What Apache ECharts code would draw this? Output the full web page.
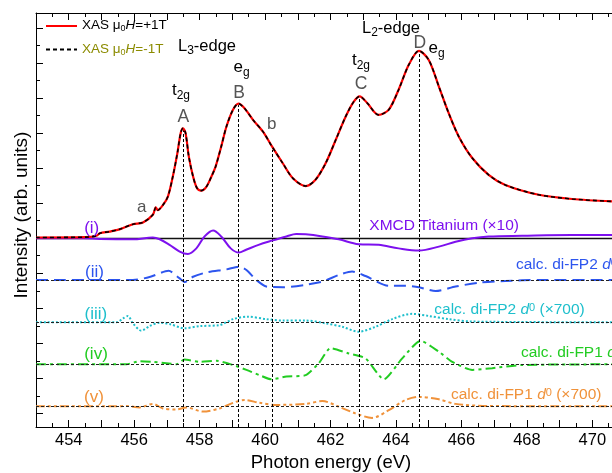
<!DOCTYPE html>
<html>
<head>
<meta charset="utf-8">
<script src="https://cdn.jsdelivr.net/npm/echarts@6/dist/echarts.min.js"></script>
<style>
html, body { margin: 0; padding: 0; background: #fff; }
#chart { width: 612px; height: 473px; }
</style>
</head>
<body>
<div id="chart"></div>
<script>
// XAS (same trace for +1T and -1T, they overlap)
const xasE = [453, 454.5, 454.85, 454.95, 455.25, 455.57, 455.96, 456.27, 456.57, 456.66, 456.72, 456.88, 457.03, 457.18, 457.32, 457.42, 457.49, 457.57, 457.67, 457.80, 457.92, 458.05, 458.20, 458.36, 458.49, 458.66, 458.82, 459.02, 459.19, 459.37, 459.63, 459.93, 460.21, 460.54, 460.85, 461.24, 461.54, 461.85, 462.16, 462.46, 462.71, 462.89, 463.12, 463.47, 463.78, 464.08, 464.39, 464.70, 465.00, 465.31, 465.61, 465.92, 466.33, 466.83, 467.34, 468.36, 469.38, 470.6]
const xasY = [5.02, 5.03, 5.07, 5.14, 5.19, 5.26, 5.40, 5.45, 5.67, 5.88, 5.80, 5.95, 6.19, 6.76, 7.43, 8.00, 8.14, 8.00, 7.33, 6.76, 6.43, 6.36, 6.46, 6.76, 7.05, 7.62, 8.19, 8.67, 8.84, 8.71, 8.38, 8.05, 7.62, 7.14, 6.71, 6.49, 6.67, 7.14, 7.81, 8.47, 8.90, 9.05, 8.86, 8.52, 8.67, 9.24, 9.95, 10.35, 10.09, 9.33, 8.57, 7.90, 7.29, 6.81, 6.52, 6.24, 6.12, 6.05]

// (i) XMCD Titanium x10
const xmcdE = [453, 454.44, 454.95, 455.96, 456.57, 456.78, 457.08, 457.39, 457.64, 457.90, 458.15, 458.41, 458.66, 458.95, 459.2, 459.42, 459.8, 460.21, 460.65, 460.95, 461.24, 461.75, 462.25, 462.86, 463.47, 464.08, 464.70, 465.31, 465.82, 466.33, 466.83, 467.85, 469.38, 470.6]
const xmcdY = [5.0, 5.0, 4.98, 4.97, 5.02, 4.97, 4.81, 4.62, 4.55, 4.71, 5.05, 5.22, 5.05, 4.71, 4.59, 4.67, 4.81, 4.93, 5.05, 5.12, 5.11, 5.05, 4.97, 4.83, 4.81, 4.71, 4.65, 4.76, 4.90, 5.00, 5.05, 5.07, 5.09, 5.09]

// (ii) calc. di-FP2 d
const fp2E = [453, 455.96, 456.47, 457.05, 457.38, 457.55, 457.80, 458.20, 458.82, 459.22, 459.43, 459.73, 460.04, 460.54, 461.24, 461.75, 462.25, 462.66, 463.07, 463.78, 464.29, 464.70, 465.21, 465.82, 466.53, 467.34, 468.36, 470.6]
const fp2Y = [3.81, 3.81, 3.89, 4.07, 3.86, 3.75, 3.90, 4.02, 4.11, 4.19, 4.09, 3.81, 3.62, 3.60, 3.67, 3.76, 3.95, 4.05, 3.92, 3.64, 3.64, 3.60, 3.49, 3.62, 3.73, 3.78, 3.81, 3.81]

// (iii) calc. di-FP2 d0 x700
const fp2d0E = [453, 455.46, 455.66, 455.81, 455.96, 456.22, 456.47, 456.78, 457.08, 457.54, 458.0, 458.61, 459.02, 459.47, 460.04, 460.54, 461.24, 461.85, 462.36, 462.86, 463.37, 463.88, 464.49, 465.0, 465.61, 466.33, 470.6]
const fp2d0Y = [2.6, 2.6, 2.71, 2.78, 2.57, 2.36, 2.49, 2.59, 2.55, 2.43, 2.49, 2.52, 2.69, 2.76, 2.69, 2.65, 2.65, 2.57, 2.47, 2.33, 2.47, 2.69, 2.84, 2.78, 2.69, 2.62, 2.6]

// (iv) calc. di-FP1 d
const fp1E = [453, 455.76, 456.17, 456.57, 456.98, 457.29, 457.54, 458.0, 458.51, 459.02, 459.43, 459.83, 460.19, 460.65, 461.24, 461.64, 462.0, 462.56, 463.07, 463.63, 464.19, 464.75, 465.31, 465.72, 466.33, 466.94, 467.85, 470.6]
const fp1Y = [1.40, 1.40, 1.49, 1.47, 1.43, 1.40, 1.54, 1.47, 1.50, 1.38, 1.24, 1.09, 0.97, 1.05, 1.09, 1.43, 1.86, 1.71, 1.57, 0.97, 1.57, 2.07, 1.76, 1.47, 1.24, 1.29, 1.38, 1.40]

// (v) calc. di-FP1 d0 x700
const fp1d0E = [453, 455.46, 455.76, 456.17, 456.57, 456.88, 457.29, 457.59, 458.10, 458.61, 459.02, 459.37, 459.83, 460.34, 461.24, 461.75, 462.25, 462.76, 463.27, 463.78, 464.29, 464.70, 465.31, 465.82, 466.83, 470.6]
const fp1d0Y = [0.2, 0.2, 0.21, 0.17, 0.27, 0.14, 0.11, 0.17, 0.05, 0.14, 0.30, 0.38, 0.30, 0.24, 0.27, 0.35, 0.19, 0.0, -0.13, 0.09, 0.38, 0.47, 0.40, 0.27, 0.21, 0.2]

// zero lines of the offset curves (i)..(v)
const baselines = [5.0, 3.8, 2.6, 1.4, 0.2]
// dashed markers A, B, b, C, D: energy and where they start
const markE = [457.49, 459.19, 460.21, 462.89, 464.71]
const markTop = [8.1, 8.8, 7.52, 9.02, 10.33]

const xMin = 453
const xMax = 470.6
const yMin = -0.39
const yMax = 11.43

const FONT = 'Liberation Sans, Arial, sans-serif'

function pairs (xs, ys) {
  return xs.map((x, i) => [x, ys[i]])
}

// rich text for echarts components (legend)
function richEc (size, color) {
  return {
    n: { fontFamily: FONT, fontSize: size, color: color, verticalAlign: 'top' },
    i: { fontFamily: FONT, fontSize: size, color: color, fontStyle: 'italic', verticalAlign: 'top' },
    s: { fontFamily: FONT, fontSize: Math.round(size * 0.7), color: color, verticalAlign: 'bottom', padding: [Math.round(size * 0.45), 0, 0, 0] }
  }
}

// rich text for graphic elements (zrender style names)
function richZr (size, color) {
  return {
    n: { fontFamily: FONT, fontSize: size, fill: color, verticalAlign: 'top' },
    i: { fontFamily: FONT, fontSize: size, fill: color, fontStyle: 'italic', verticalAlign: 'top' },
    s: { fontFamily: FONT, fontSize: Math.round(size * 0.7), fill: color, verticalAlign: 'bottom', padding: [Math.round(size * 0.45), 0, 0, 0] },
    p: { fontFamily: FONT, fontSize: Math.round(size * 0.7), fill: color, verticalAlign: 'top' }
  }
}

function note (x, y, text, size, color, align) {
  return {
    type: 'text',
    x: x,
    y: y,
    z: 100,
    silent: true,
    style: {
      text: text,
      fill: color,
      fontFamily: FONT,
      fontSize: size,
      align: align || 'center',
      verticalAlign: 'middle',
      rich: richZr(size, color)
    }
  }
}

const PURPLE = '#7d10ee'
const BLUE = '#2d55ee'
const CYAN = '#1ebfcc'
const GREEN = '#22cc22'
const ORANGE = '#f0923a'
const GREY = '#555555'

const graphics = [
  note(207, 47, '{n|L}{s|3}{n|-edge}', 16.5, '#000'),
  note(391, 29, '{n|L}{s|2}{n|-edge}', 16.5, '#000'),
  note(181, 91.5, '{n|t}{s|2g}', 17, '#000'),
  note(241.5, 69, '{n|e}{s|g}', 17, '#000'),
  note(361, 61.5, '{n|t}{s|2g}', 17, '#000'),
  note(436.5, 49.5, '{n|e}{s|g}', 17, '#000'),
  note(183.3, 117, 'A', 17.5, GREY),
  note(239, 93.3, 'B', 17.5, GREY),
  note(361, 84.5, 'C', 17.5, GREY),
  note(419.7, 43.3, 'D', 17.5, GREY),
  note(141.7, 207, 'a', 17, GREY),
  note(271.7, 124, 'b', 17, GREY),
  note(91.7, 228, '(i)', 17, PURPLE),
  note(94.5, 272, '(ii)', 17, BLUE),
  note(95.8, 314, '(iii)', 17, CYAN),
  note(96, 354.5, '(iv)', 17, GREEN),
  note(94, 397.5, '(v)', 17, ORANGE),
  note(369.3, 225.8, '{n|XMCD Titanium (\u00d710)}', 15.5, PURPLE, 'left'),
  note(516, 265, '{n|calc. di-FP2 }{i|d}{p|0}{n| (\u00d7700)}', 15.5, BLUE, 'left'),
  note(434.3, 310, '{n|calc. di-FP2 }{i|d}{p|0}{n| (\u00d7700)}', 15.5, CYAN, 'left'),
  note(521, 353, '{n|calc. di-FP1 }{i|d}{p|0}{n| (\u00d7700)}', 15.5, GREEN, 'left'),
  note(451, 395, '{n|calc. di-FP1 }{i|d}{p|0}{n| (\u00d7700)}', 15.5, ORANGE, 'left')
]

const chart = echarts.init(document.getElementById('chart'))

const baseDash = { type: [3, 2], color: '#222', width: 1 }
function baseLine (i, style) {
  return {
    silent: true,
    symbol: ['none', 'none'],
    label: { show: false },
    animation: false,
    lineStyle: style,
    data: [{ yAxis: baselines[i] }]
  }
}

const markers = markE.map((e, i) => [
  { coord: [e, yMin] },
  { coord: [e, markTop[i]] }
])

function curve (name, data, color, width, type, z, smooth) {
  return {
    name: name,
    type: 'line',
    data: data,
    symbol: 'none',
    showSymbol: false,
    smooth: smooth,
    z: z,
    lineStyle: { color: color, width: width, type: type },
    itemStyle: { color: color },
    animation: false
  }
}

const s0 = curve('XAS +1T', pairs(xasE, xasY), '#ff0000', 2.2, 'solid', 6, 0.3)
const s1 = curve('XAS -1T', pairs(xasE, xasY), '#000000', 1.6, [4, 3], 7, 0.3)
const s2 = curve('XMCD', pairs(xmcdE, xmcdY), PURPLE, 2, 'solid', 5, 0.35)
s2.markLine = {
  silent: true,
  symbol: ['none', 'none'],
  label: { show: false },
  animation: false,
  data: [{ yAxis: baselines[0], lineStyle: { type: 'solid', color: '#111', width: 1.3 } }].concat(markers),
  lineStyle: { type: [3, 2], color: '#000', width: 1 }
}
const s3 = curve('FP2', pairs(fp2E, fp2Y), BLUE, 2, [12, 6], 4, 0.25)
s3.markLine = baseLine(1, baseDash)
const s4 = curve('FP2d0', pairs(fp2d0E, fp2d0Y), CYAN, 2, [2, 2], 4, 0.3)
s4.markLine = baseLine(2, baseDash)
const s5 = curve('FP1', pairs(fp1E, fp1Y), GREEN, 2, [10, 4, 3, 4], 4, 0.2)
s5.markLine = baseLine(3, baseDash)
const s6 = curve('FP1d0', pairs(fp1d0E, fp1d0Y), ORANGE, 2, [9, 3, 3, 3, 3, 3], 4, 0.3)
s6.markLine = baseLine(4, baseDash)

const tickStyle = { color: '#000', width: 1 }

function legendFor (name, top, text, color) {
  return {
    data: [name],
    left: 40,
    top: top,
    itemWidth: 31,
    itemHeight: 14,
    selectedMode: false,
    itemStyle: { opacity: 0 },
    formatter: () => text,
    textStyle: { fontFamily: FONT, fontSize: 13.5, color: color, rich: richEc(13.5, color) }
  }
}

chart.setOption({
  animation: false,
  textStyle: { fontFamily: FONT },
  grid: { left: 36, top: 13, right: 0, bottom: 46, containLabel: false, outerBoundsMode: 'none' },
  legend: [
    legendFor('XAS +1T', 13.5, '{n|XAS \u03bc}{s|0}{i|H}{n|=+1T}', '#000'),
    legendFor('XAS -1T', 37, '{n|XAS \u03bc}{s|0}{i|H}{n|=-1T}', '#8b8b00')
  ],
  xAxis: [
    {
      type: 'value',
      position: 'bottom',
      min: xMin,
      max: xMax,
      minInterval: 1,
      maxInterval: 1,
      axisLine: { onZero: false, lineStyle: tickStyle },
      axisTick: { inside: true, length: 7, lineStyle: tickStyle },
      minorTick: { show: true, splitNumber: 2, length: 4, lineStyle: tickStyle },
      splitLine: { show: false },
      axisLabel: {
        fontFamily: FONT,
        fontSize: 16.5,
        color: '#000',
        margin: 5,
        showMinLabel: false,
        showMaxLabel: false,
        formatter: v => (Math.abs(v % 2) < 1e-6 ? String(v) : '')
      },
      name: 'Photon energy (eV)',
      nameLocation: 'middle',
      nameGap: 26,
      nameTextStyle: { fontFamily: FONT, fontSize: 18.5, color: '#000', padding: [0, 0, 0, 14] }
    },
    {
      type: 'value',
      position: 'top',
      min: xMin,
      max: xMax,
      minInterval: 1,
      maxInterval: 1,
      axisLine: { onZero: false, lineStyle: tickStyle },
      axisTick: { inside: true, length: 7, lineStyle: tickStyle },
      minorTick: { show: true, splitNumber: 2, length: 4, lineStyle: tickStyle },
      splitLine: { show: false },
      axisLabel: { show: false }
    }
  ],
  yAxis: {
    type: 'value',
    min: yMin,
    max: yMax,
    minInterval: 1,
    maxInterval: 1,
    axisLine: { show: true, onZero: false, lineStyle: tickStyle },
    axisTick: { show: true, inside: true, length: 7, lineStyle: tickStyle },
    minorTick: { show: true, splitNumber: 2, length: 4, lineStyle: tickStyle },
    splitLine: { show: false },
    axisLabel: { show: false },
    name: 'Intensity (arb. units)',
    nameLocation: 'middle',
    nameGap: 5,
    nameTextStyle: { fontFamily: FONT, fontSize: 19, color: '#000', padding: [0, 0, 0, 10] }
  },
  series: [s6, s5, s4, s3, s2, s0, s1],
  graphic: graphics
})
</script>
</body>
</html>
